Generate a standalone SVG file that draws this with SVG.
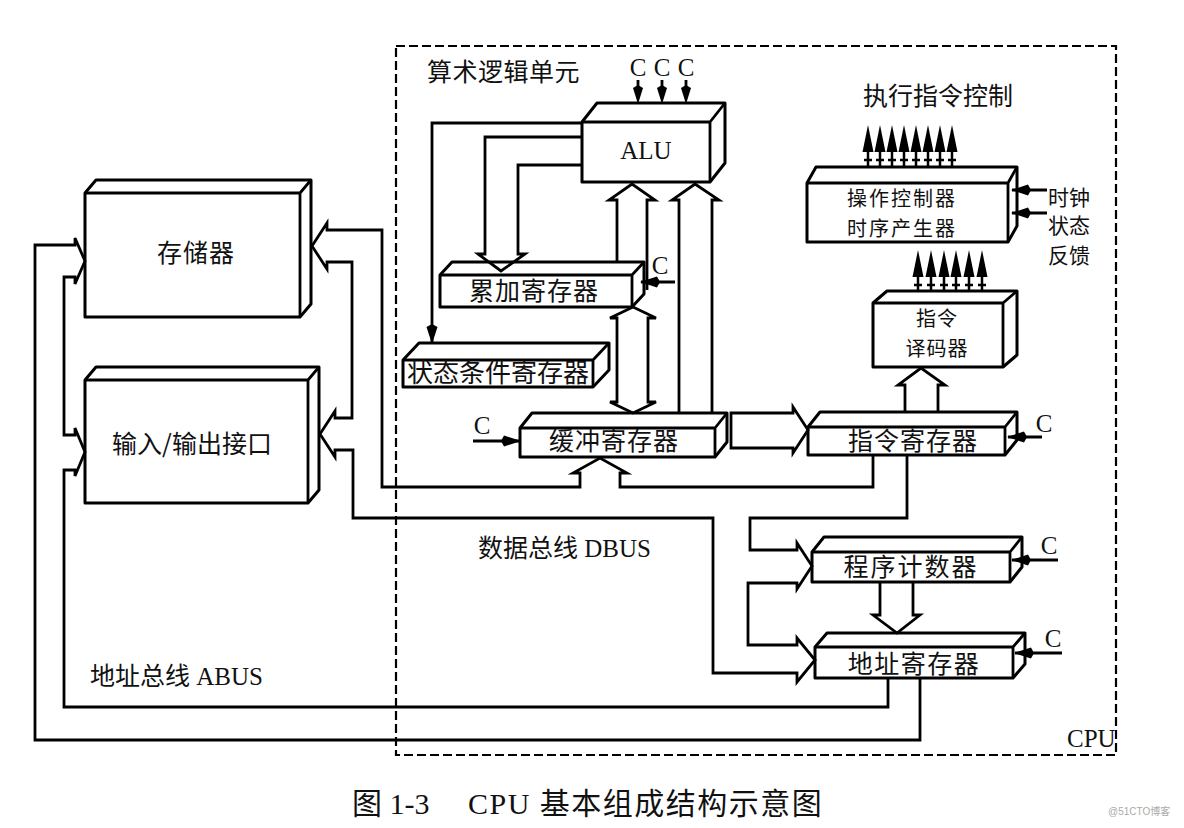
<svg xmlns="http://www.w3.org/2000/svg" width="1184" height="828" viewBox="0 0 1184 828">
<defs>
<style>
.bx{fill:#fff;stroke:#000;stroke-width:3;stroke-linejoin:round}
.ln{fill:none;stroke:#000;stroke-width:2.8;stroke-linejoin:miter}
.cj{font-family:"Noto Sans CJK SC","Noto Sans CJK JP",sans-serif;fill:#111}
.lt{font-family:"Liberation Serif","Noto Sans CJK SC",serif;fill:#111}
.mid{text-anchor:middle}
</style>
<marker id="ah" markerUnits="userSpaceOnUse" markerWidth="22" markerHeight="14" refX="19" refY="7" orient="auto">
<path d="M0,7 L3,1.5 L20,7 L3,12.5 Z" fill="#000"/>
</marker>
<g id="ua"><path d="M0,0 L-5.5,27 L5.5,27 Z" fill="#000"/><path d="M0,26 V42 M-4,35 H4" fill="none" stroke="#000" stroke-width="2.5"/></g>
<g id="da"><path d="M0,0 V12" fill="none" stroke="#000" stroke-width="2.8"/><path d="M0,24 L-5,8 L0,5 L5,8 Z" fill="#000"/></g>
</defs>
<rect width="1184" height="828" fill="#fff"/>
<rect x="396" y="46" width="720" height="709" fill="none" stroke="#000" stroke-width="2.2" stroke-dasharray="9 4"/>

<g id="memory">
<path class="bx" d="M85,193 L96,180 L311,180 L311,304 L300,317 L85,317 Z"/>
<path class="ln" d="M85,193 H300 V317 M300,193 L311,180"/>
<text class="cj mid" x="196" y="262" font-size="25" letter-spacing="1">存储器</text>
</g>
<g id="io">
<path class="bx" d="M85,380 L96,367 L319,367 L319,490 L308,503 L85,503 Z"/>
<path class="ln" d="M85,380 H308 V503 M308,380 L319,367"/>
<text class="cj mid" x="192" y="453" font-size="25">输入/输出接口</text>
</g>
<g id="alu">
<path class="bx" d="M582,122 L597,103 L725,103 L725,163 L710,182 L582,182 Z"/>
<path class="ln" d="M582,122 H710 V182 M710,122 L725,103"/>
<text class="lt mid" x="646" y="159" font-size="25">ALU</text>
</g>
<g id="accumulator">
<path class="bx" d="M440,275 L452,262 L644,262 L644,294 L632,307 L440,307 Z"/>
<path class="ln" d="M440,275 H632 V307 M632,275 L644,262"/>
<text class="cj mid" x="534" y="300" font-size="25" letter-spacing="1">累加寄存器</text>
</g>
<g id="status-reg">
<path class="bx" d="M403,360 L419,343 L609,343 L609,370 L593,387 L403,387 Z"/>
<path class="ln" d="M403,360 H593 V387 M593,360 L609,343"/>
<text class="cj mid" x="498" y="382" font-size="26">状态条件寄存器</text>
</g>
<g id="buffer-reg">
<path class="bx" d="M520,428 L532,413 L727,413 L727,442 L715,457 L520,457 Z"/>
<path class="ln" d="M520,428 H715 V457 M715,428 L727,413"/>
<text class="cj mid" x="614" y="450" font-size="25" letter-spacing="1">缓冲寄存器</text>
</g>
<g id="instr-reg">
<path class="bx" d="M808,427 L820,412 L1017,412 L1017,440 L1005,455 L808,455 Z"/>
<path class="ln" d="M808,427 H1005 V455 M1005,427 L1017,412"/>
<text class="cj mid" x="913" y="450" font-size="25" letter-spacing="1">指令寄存器</text>
</g>
<g id="decoder">
<path class="bx" d="M873,303 L887,291 L1017,291 L1017,355 L1003,367 L873,367 Z"/>
<path class="ln" d="M873,303 H1003 V367 M1003,303 L1017,291"/>
<text class="cj mid" x="937" y="326" font-size="20" letter-spacing="1">指令</text>
<text class="cj mid" x="937" y="356" font-size="20" letter-spacing="1">译码器</text>
</g>
<g id="controller">
<path class="bx" d="M807,183 L816,167 L1017,167 L1017,226 L1008,242 L807,242 Z"/>
<path class="ln" d="M807,183 H1008 V242 M1008,183 L1017,167"/>
<text class="cj mid" x="902" y="206" font-size="20" letter-spacing="2">操作控制器</text>
<text class="cj mid" x="902" y="236" font-size="20" letter-spacing="2">时序产生器</text>
</g>
<g id="pc">
<path class="bx" d="M812,552 L824,537 L1022,537 L1022,567 L1010,582 L812,582 Z"/>
<path class="ln" d="M812,552 H1010 V582 M1010,552 L1022,537"/>
<text class="cj mid" x="911" y="576" font-size="25" letter-spacing="2">程序计数器</text>
</g>
<g id="addr-reg">
<path class="bx" d="M815,647 L827,633 L1025,633 L1025,664 L1013,678 L815,678 Z"/>
<path class="ln" d="M815,647 H1013 V678 M1013,647 L1025,633"/>
<text class="cj mid" x="914" y="673" font-size="25" letter-spacing="1.5">地址寄存器</text>
</g>

<g id="connectors">
<path class="ln" d="M873,455 V487 H620 V473 L627,473 L600,458 L573,473 L580,473 V487 H382 V230 H327 V223 L312,246 L327,269 V262 H352 V418 H335 V411 L320,434 L335,457 V450 H353 V518 H713 V673 H797 V682 L815,660 L797,638 V645 H748 V583 H797 V589 L812,566 L797,543 V550 H750 V518 H907 V455"/>
<path class="ln" d="M920,678 V740 H35 V245 H75 V238 L85,261 L75,284 V277 H64 V435 H75 V428 L85,452 L75,476 V470 H64 V707 H888 V678"/>
<path class="ln" d="M582,137 H485 V254 L478,254 L501,271 L525,254 L518,254 V165 H582"/>
<path class="ln" d="M617,262 V200 L609,200 L632,184 L655,200 L647,200 V290"/>
<path class="ln" d="M679,413 V200 L672,200 L695,184 L719,200 L712,200 V413"/>
<path class="ln" d="M617,318 L610,318 L633,307 L656,318 L648,318 V402 L656,402 L633,413 L610,402 L617,402 Z"/>
<path class="ln" d="M731,413 H793 V407 L808,430 L793,453 V448 H731 Z"/>
<path class="ln" d="M905,412 V385 L898,385 L921,368 L945,385 L938,385 V412"/>
<path class="ln" d="M880,582 V615 L873,615 L897,633 L920,615 L913,615 V582"/>
<path class="ln" d="M582,123 H432 V343" marker-end="url(#ah)"/>
<path class="ln" d="M675,282 H641" marker-end="url(#ah)"/>
<path class="ln" d="M473,441 H520" marker-end="url(#ah)"/>
<path class="ln" d="M1042,437 H1008" marker-end="url(#ah)"/>
<path class="ln" d="M1058,560 H1012" marker-end="url(#ah)"/>
<path class="ln" d="M1062,653 H1015" marker-end="url(#ah)"/>
<path class="ln" d="M1047,190 H1012" marker-end="url(#ah)"/>
<path class="ln" d="M1047,213 H1012" marker-end="url(#ah)"/>
<use href="#da" x="638" y="80"/><use href="#da" x="662" y="80"/><use href="#da" x="686" y="80"/>
<use href="#ua" x="868" y="125"/><use href="#ua" x="880" y="125"/><use href="#ua" x="892" y="125"/><use href="#ua" x="904" y="125"/>
<use href="#ua" x="916" y="125"/><use href="#ua" x="928" y="125"/><use href="#ua" x="940" y="125"/><use href="#ua" x="952" y="125"/>
<use href="#ua" x="918" y="250"/><use href="#ua" x="931" y="250"/><use href="#ua" x="944" y="250"/><use href="#ua" x="956" y="250"/><use href="#ua" x="969" y="250"/><use href="#ua" x="982" y="250"/>
</g>

<g id="labels">
<text class="cj" x="427" y="81" font-size="25" letter-spacing="0.5">算术逻辑单元</text>
<text class="lt mid" x="638" y="76" font-size="25">C</text>
<text class="lt mid" x="662" y="76" font-size="25">C</text>
<text class="lt mid" x="686" y="76" font-size="25">C</text>
<text class="cj mid" x="938" y="105" font-size="25">执行指令控制</text>
<text class="cj" x="1048" y="205" font-size="21">时钟</text>
<text class="cj" x="1048" y="233" font-size="21">状态</text>
<text class="cj" x="1048" y="263" font-size="21">反馈</text>
<text class="lt mid" x="660" y="274" font-size="25">C</text>
<text class="lt mid" x="482" y="434" font-size="25">C</text>
<text class="lt mid" x="1044" y="432" font-size="25">C</text>
<text class="lt mid" x="1049" y="554" font-size="25">C</text>
<text class="lt mid" x="1053" y="647" font-size="25">C</text>
<text class="lt" x="478" y="557" font-size="25">数据总线 DBUS</text>
<text class="lt" x="90" y="685" font-size="25">地址总线 ABUS</text>
<text class="lt" x="1067" y="747" font-size="25">CPU</text>
<text class="lt" x="352" y="814" font-size="30">图 1-3</text>
<text class="lt" x="468" y="814" font-size="30" letter-spacing="1.5">CPU 基本组成结构示意图</text>
<text font-family="Liberation Sans, Noto Sans CJK SC, sans-serif" x="1108" y="815" font-size="10" fill="#aaa">@51CTO博客</text>
</g>
</svg>
